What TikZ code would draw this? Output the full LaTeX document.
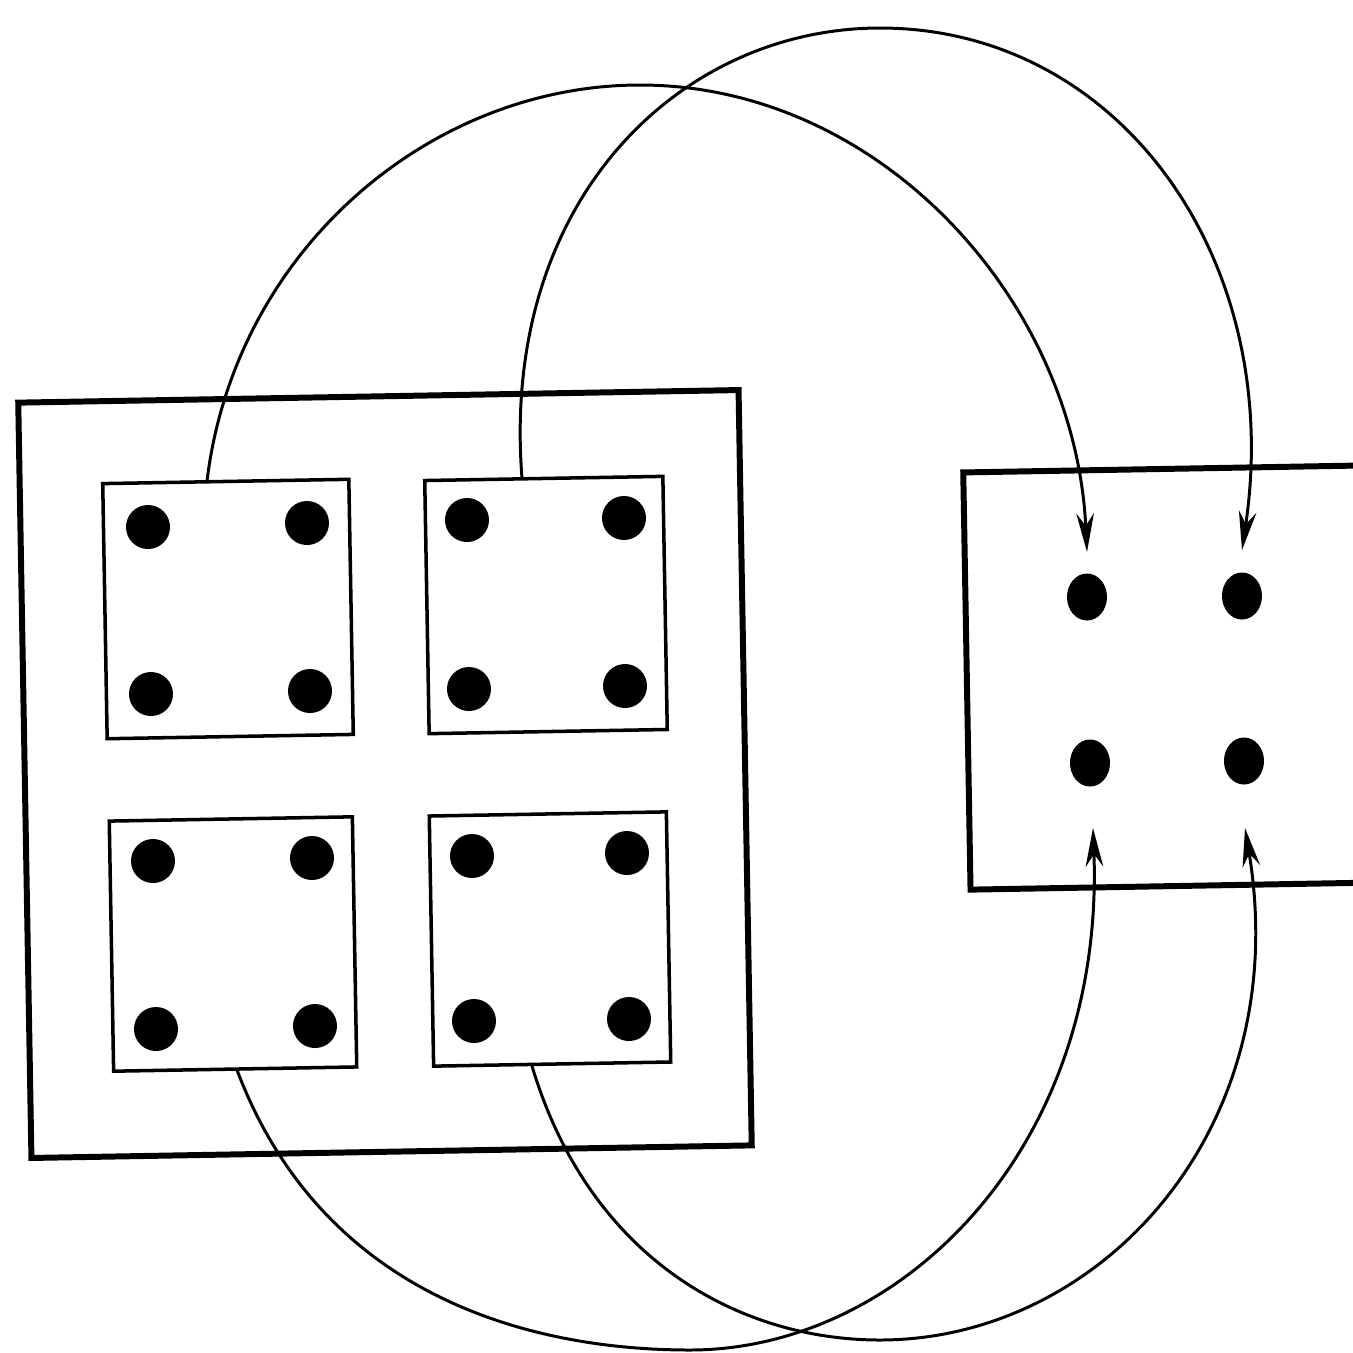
\documentclass[tikz,border=0pt]{standalone}
\usetikzlibrary{arrows.meta,shapes.geometric}
\begin{document}
\begin{tikzpicture}[x=0.01cm,y=-0.01cm,
  outerbox/.style={draw,line width=1.7pt,rectangle,rotate=1,inner sep=0pt},
  cell/.style={draw,line width=1pt,rectangle,rotate=1,inner sep=0pt},
  dot/.style={circle,fill,inner sep=0pt,minimum size=0.44cm},
  rdot/.style={ellipse,fill,inner sep=0pt,minimum width=0.40cm,minimum height=0.47cm},
  link/.style={line width=0.85pt,-{Stealth[length=11pt,width=5pt]}}]
\useasboundingbox (0,0) rectangle (1353,1353);
\clip (0,0) rectangle (1353,1353);
% outer board
\node[outerbox,minimum width=7.20cm,minimum height=7.55cm] (board) at (385,774) {};
% right board (extends past the edge)
\node[outerbox,minimum width=4.60cm,minimum height=4.17cm] (target) at (1197,677) {};
% cells
\node[cell,minimum width=2.46cm,minimum height=2.55cm] (c1) at (228,609) {};
\node[cell,minimum width=2.38cm,minimum height=2.53cm] (c2) at (546,605) {};
\node[cell,minimum width=2.43cm,minimum height=2.50cm] (c3) at (233,944) {};
\node[cell,minimum width=2.37cm,minimum height=2.50cm] (c4) at (550,939) {};
% dots in cells
\node[dot] (d11) at (148,527) {};
\node[dot] (d12) at (307,523) {};
\node[dot] (d13) at (151,694) {};
\node[dot] (d14) at (310,691) {};
\node[dot] (d21) at (467,520) {};
\node[dot] (d22) at (624,518) {};
\node[dot] (d23) at (469,689) {};
\node[dot] (d24) at (625,686) {};
\node[dot] (d31) at (153,861) {};
\node[dot] (d32) at (312,858) {};
\node[dot] (d33) at (156,1029) {};
\node[dot] (d34) at (315,1026) {};
\node[dot] (d41) at (472,856) {};
\node[dot] (d42) at (627,853) {};
\node[dot] (d43) at (474,1021) {};
\node[dot] (d44) at (629,1019) {};
% dots in right board
\node[rdot] (r1) at (1087,597) {};
\node[rdot] (r2) at (1242,596) {};
\node[rdot] (r3) at (1090,763) {};
\node[rdot] (r4) at (1244,761) {};
% connector end points
\coordinate (s1) at (207,481);
\coordinate (s2) at (522,478);
\coordinate (s3) at (237,1070);
\coordinate (s4) at (532,1066);
\coordinate (e1) at (1087,552);
\coordinate (e2) at (1242,550);
\coordinate (e3) at (1093,828);
\coordinate (e4) at (1245,828);
% connectors
\draw[link] (s1) .. controls (235,250) and (430,85) .. (640,85)
  .. controls (880,85) and (1075,300) .. (e1);
\draw[link] (s2) .. controls (500,200) and (680,28) .. (880,28)
  .. controls (1120,28) and (1285,260) .. (e2);
\draw[link] (s3) .. controls (320,1290) and (520,1350) .. (690,1350)
  .. controls (900,1350) and (1105,1150) .. (e3);
\draw[link] (s4) .. controls (590,1260) and (740,1340) .. (880,1340)
  .. controls (1100,1340) and (1295,1130) .. (e4);
\end{tikzpicture}
\end{document}
